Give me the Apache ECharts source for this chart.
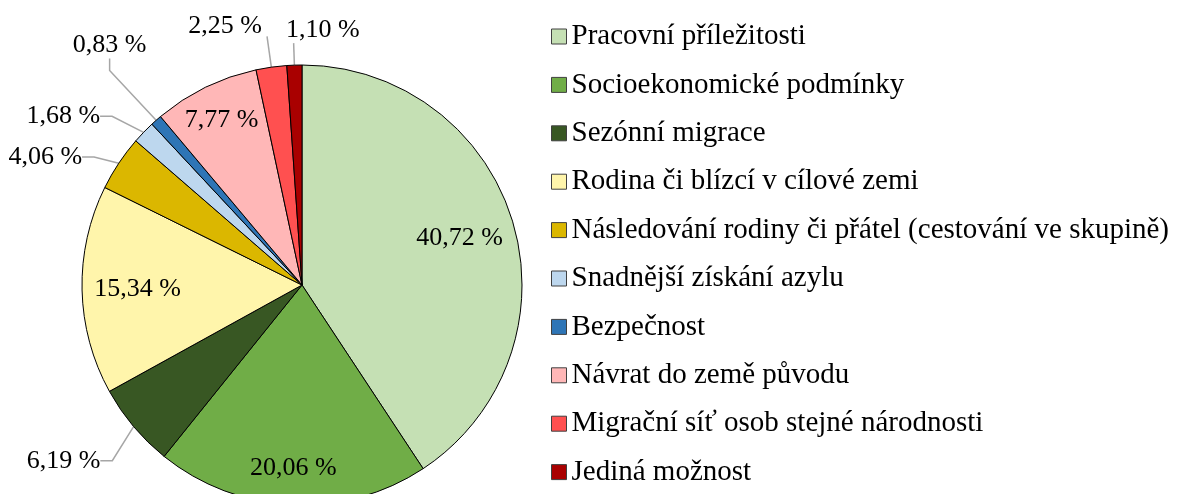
<!DOCTYPE html>
<html><head><meta charset="utf-8">
<script src="https://cdn.jsdelivr.net/npm/echarts@6/dist/echarts.min.js"></script>
<style>html,body{margin:0;padding:0;background:#fff}#chart{width:1179px;height:494px}</style>
</head><body><div id="chart"></div>
<script>
const categories = [
  'Pracovní příležitosti',
  'Socioekonomické podmínky',
  'Sezónní migrace',
  'Rodina či blízcí v cílové zemi',
  'Následování rodiny či přátel (cestování ve skupině)',
  'Snadnější získání azylu',
  'Bezpečnost',
  'Návrat do země původu',
  'Migrační síť osob stejné národnosti',
  'Jediná možnost'
];
const shares = [40.72, 20.06, 6.19, 15.34, 4.06, 1.68, 0.83, 7.77, 2.25, 1.10];
const colors = ['#c5e0b4', '#70ad47', '#385723', '#fff5ab', '#dbb700', '#bdd7ee', '#2e75b6', '#ffb7b7', '#ff5050', '#a90000'];

// which labels sit inside the slices (two rings of label radius) / outside with leader lines
const insideNear = [0, 3];
const insideFar = [1, 7];
const outsideKeepLine = [8, 9];

// layout constants
const CX = 302, CY = 285, R = 220;
const leader = {2: [50, 12], 4: [11, 12], 5: [23, 12], 6: [100, 12], 8: [31, 0], 9: [22, 0]};
const nudge = {2: [22, 2], 4: [-10.6, 0], 5: [-10, 0], 6: [73.6, 0], 8: [0, -10], 9: [71, -13]};

const labelFont = {fontFamily: 'Liberation Serif', fontSize: 26, color: '#000'};
const fmt = p => Number(p.value).toFixed(2).replace('.', ',') + ' %';

const chart = echarts.init(document.getElementById('chart'), null, {renderer: 'canvas'});

const mainData = categories.map((name, i) => {
  const isOut = leader[i] !== undefined;
  return {
    name, value: shares[i],
    itemStyle: {color: colors[i]},
    label: {show: isOut},
    labelLine: isOut ? {show: true, length: leader[i][0], length2: leader[i][1]} : {show: false}
  };
});

function overlay(radius, showIdx) {
  return {
    type: 'pie', radius, center: [CX, CY], silent: true, z: 3,
    startAngle: 90, clockwise: true, avoidLabelOverlap: false,
    itemStyle: {color: 'rgba(0,0,0,0)', borderWidth: 0},
    emphasis: {disabled: true},
    label: Object.assign({show: true, position: 'inside', formatter: fmt}, labelFont),
    labelLine: {show: false},
    data: categories.map((name, i) => ({name, value: shares[i], label: {show: showIdx.includes(i)}}))
  };
}

const option = {
  backgroundColor: '#ffffff',
  animation: false,
  legend: {
    orient: 'vertical',
    left: 551, top: 22,
    padding: 0,
    itemWidth: 15, itemHeight: 15, itemGap: 19.4,
    icon: 'rect',
    selectedMode: false,
    textStyle: {fontFamily: 'Liberation Serif', fontSize: 29, lineHeight: 29, color: '#000'},
    data: categories.map((name, i) => ({name, itemStyle: {color: colors[i], borderColor: '#404040', borderWidth: 1}}))
  },
  series: [
    {
      type: 'pie', radius: R, center: [CX, CY],
      startAngle: 90, clockwise: true, avoidLabelOverlap: false,
      itemStyle: {borderColor: '#000', borderWidth: 1},
      emphasis: {disabled: true},
      label: Object.assign({position: 'outside', formatter: fmt, distanceToLabelLine: 5}, labelFont),
      labelLine: {lineStyle: {color: '#a6a6a6', width: 1.5}},
      labelLayout: function (p) {
        const n = nudge[p.dataIndex];
        if (!n || !p.labelRect) return {};
        const out = {x: p.labelRect.x + n[0], y: p.labelRect.y + n[1], align: 'left', verticalAlign: 'top'};
        if (outsideKeepLine.includes(p.dataIndex) && p.labelLinePoints) out.labelLinePoints = p.labelLinePoints;
        return out;
      },
      data: mainData
    },
    overlay([103, R], insideNear),
    overlay([140, R], insideFar)
  ]
};
chart.setOption(option);
</script></body></html>
